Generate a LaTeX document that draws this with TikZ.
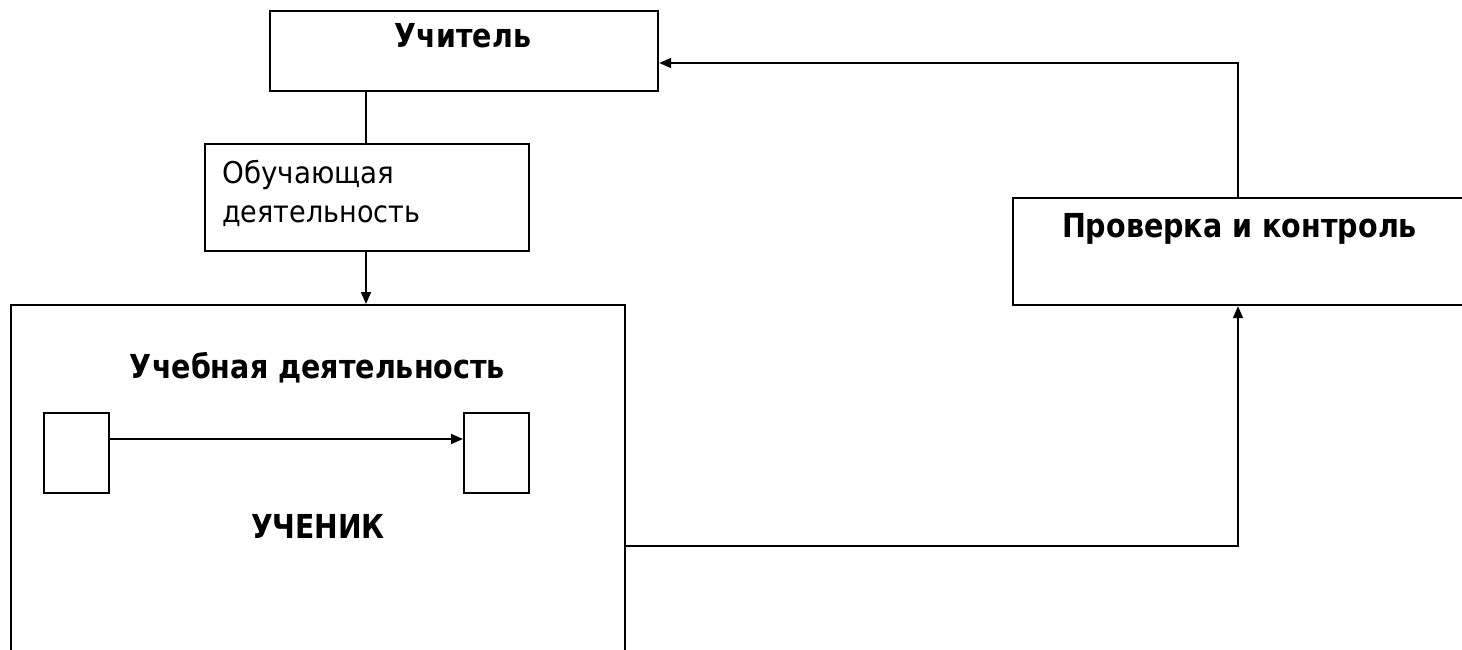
\documentclass[tikz,border=0pt]{standalone}
\usepackage{fontspec}
\setmainfont{DejaVu Sans}
\usepackage{graphicx}
\usetikzlibrary{arrows.meta}
\newcommand\fitw[2]{\resizebox{#1}{\height}{#2}}
\begin{document}
\begin{tikzpicture}[x=1pt,y=-1pt,
  box/.style={draw,line width=2.2pt,rectangle,inner sep=0pt,anchor=north west},
  lbl/.style={inner sep=0pt,anchor=base,font=\fontsize{33}{40}\selectfont\bfseries},
  conn/.style={line width=1.8pt},
  arr/.style={conn,-{Triangle[length=12pt,width=10pt]}}]
\useasboundingbox (0,0) rectangle (1462,650);
\clip (0,0) rectangle (1462,650);
% boxes
\node[box,minimum width=388pt,minimum height=80pt] (teacher) at (269,10) {};
\node[box,minimum width=324pt,minimum height=107pt] (obuch) at (204,143) {};
\node[box,minimum width=614pt,minimum height=360pt] (uchenik) at (10,304) {};
\node[box,minimum width=470pt,minimum height=107pt] (prov) at (1012,197) {};
\node[box,minimum width=65pt,minimum height=80pt] (s1) at (43,412) {};
\node[box,minimum width=65pt,minimum height=80pt] (s2) at (463,412) {};
% labels
\node[lbl] (tlbl) at (463,48) {\fitw{136pt}{Учитель}};
\node[lbl] (ulbl) at (317.5,378) {\fitw{375pt}{Учебная деятельность}};
\node[lbl] (ulbl2) at (318,538) {\fitw{134pt}{УЧЕНИК}};
\node[lbl] (plbl) at (1239.5,237) {\fitw{355pt}{Проверка и контроль}};
\node[inner sep=0pt,anchor=base west,align=left,font=\fontsize{30}{39}\selectfont] (olbl) at (222,222)
  {\fitw{172pt}{Обучающая}\\\fitw{198pt}{деятельность}};
% connectors
\coordinate (c1) at (1238,546);
\coordinate (c2) at (1238,63);
\draw[conn] (teacher.south -| 366,0) -- (obuch.north -| 366,0);
\draw[arr] (obuch.south -| 366,0) -- (uchenik.north -| 366,0);
\draw[arr] (uchenik.east |- c1) -- (c1) -- (prov.south -| c1);
\draw[arr] (prov.north -| c2) -- (c2) -- (teacher.east |- c2);
\draw[arr] (s1.east |- 0,439) -- (s2.west |- 0,439);
\end{tikzpicture}
\end{document}
